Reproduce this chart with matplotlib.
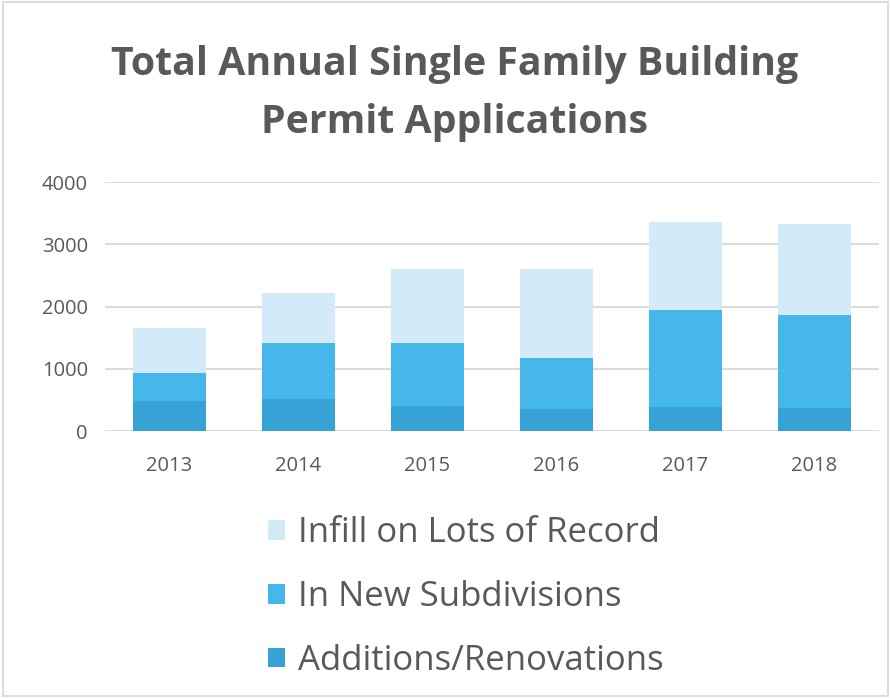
import numpy as np
import matplotlib.pyplot as plt
from matplotlib.patches import Rectangle

years = ["2013", "2014", "2015", "2016", "2017", "2018"]
additions = [480, 520, 400, 350, 390, 375]
new_subdiv = [460, 900, 1020, 825, 1550, 1495]   # stacked on additions
infill = [720, 790, 1180, 1435, 1410, 1455]      # stacked on top

labels = ["Additions/Renovations", "In New Subdivisions", "Infill on Lots of Record"]
colors = ["#36a2d6", "#45b7ea", "#d3ebf8"]
txt = "#595959"

plt.rcParams["font.family"] = ["Open Sans", "DejaVu Sans"]

fig = plt.figure(figsize=(8.91, 6.98), dpi=100)
ax = fig.add_axes([0.1173, 0.3825, 0.8687, 0.3567])

x = np.arange(len(years))
w = 0.566
bottom = np.zeros(len(years))
bars = []
for vals, c, lab in zip([additions, new_subdiv, infill], colors, labels):
    b = ax.bar(x, vals, w, bottom=bottom, color=c, label=lab, zorder=3)
    bars.append(b)
    bottom += np.array(vals)

ax.set_xlim(-0.5, len(years) - 0.5)
ax.set_ylim(0, 4000)
ax.set_yticks([0, 1000, 2000, 3000, 4000])
ax.set_xticks(x)
ax.set_xticklabels(years)
ax.grid(axis="y", color="#d4d4d4", linewidth=1.2, zorder=0)
for s in ax.spines.values():
    s.set_visible(False)
ax.tick_params(axis="both", length=0, labelsize=14.5, colors=txt)
ax.tick_params(axis="y", pad=12)
ax.tick_params(axis="x", pad=18)

fig.text(0.51, 0.907, "Total Annual Single Family Building", ha="center", va="center",
         fontsize=28.3, fontweight="bold", color=txt)
fig.text(0.51, 0.825, "Permit Applications", ha="center", va="center",
         fontsize=28.3, fontweight="bold", color=txt)

handles = [bars[2], bars[1], bars[0]]
fig.legend(handles, [labels[2], labels[1], labels[0]], loc="upper left",
           bbox_to_anchor=(0.266, 0.305), frameon=False, fontsize=25,
           labelcolor=txt, handlelength=0.48, handleheight=0.48, handletextpad=0.38,
           labelspacing=0.86)

fig.patches.append(Rectangle((0.003, 0.003), 0.994, 0.994, transform=fig.transFigure,
                             fill=False, edgecolor="#dddddd", linewidth=1.5))

fig.savefig("out.png", dpi=100)
